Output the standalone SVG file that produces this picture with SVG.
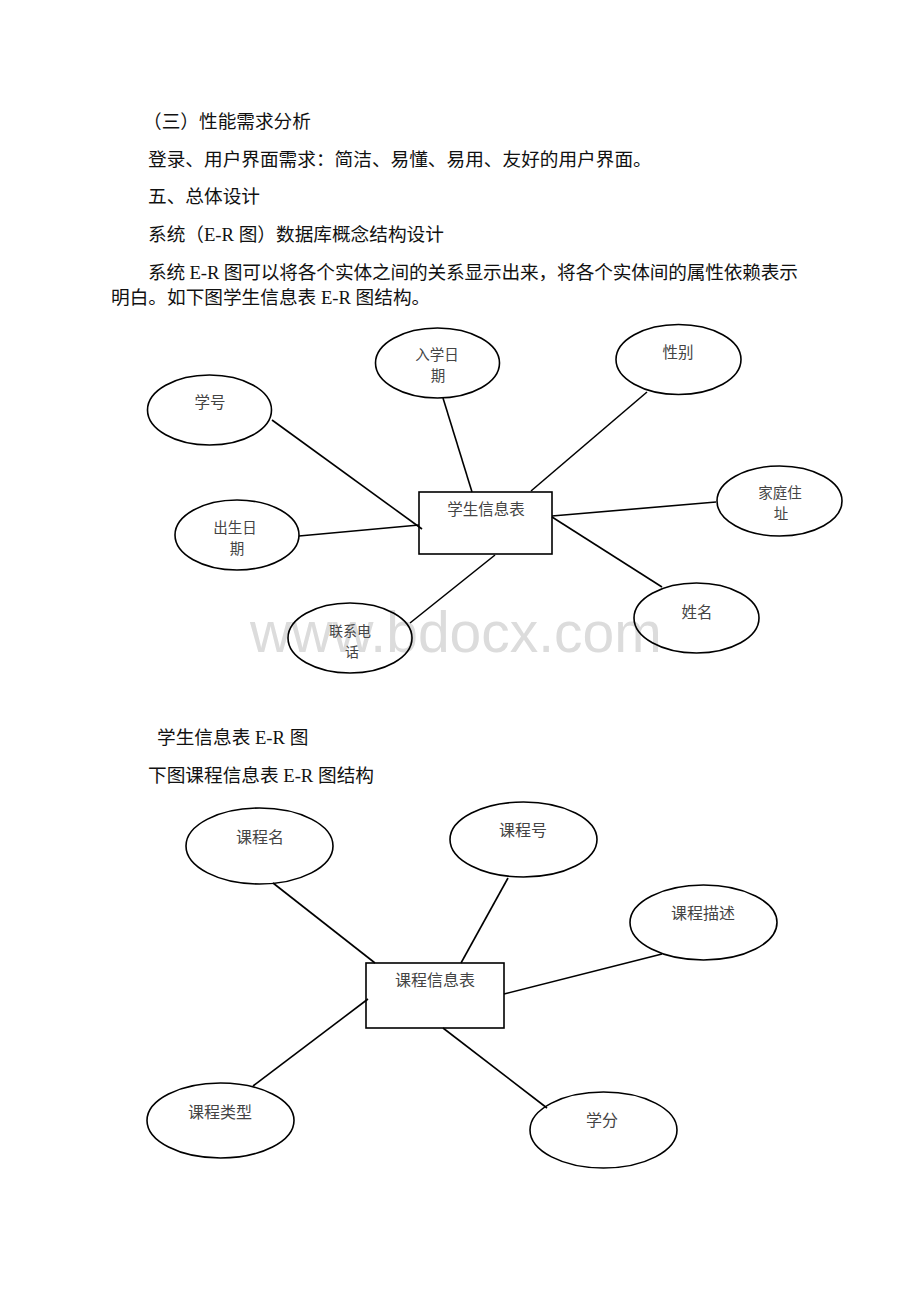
<svg xmlns="http://www.w3.org/2000/svg" width="920" height="1302" viewBox="0 0 920 1302">
<style>
.p{font-family:"Liberation Serif","Noto Sans CJK SC",serif;font-size:18.67px;fill:#111}
.n{font-family:"Liberation Serif","Noto Sans CJK SC",sans-serif;font-size:15.5px;fill:#444;text-anchor:middle}
.shape{fill:none;stroke:#000;stroke-width:1.6}
.c line{stroke:#000;stroke-width:1.6}
.wm{font-family:"Liberation Sans",Arial,sans-serif;font-size:57px;fill:#dcdcdc}
</style>
<rect width="920" height="1302" fill="#fff"/>
<g id="text">
<text class="p" x="143" y="128">（三）性能需求分析</text>
<text class="p" x="148" y="166">登录、用户界面需求：简洁、易懂、易用、友好的用户界面。</text>
<text class="p" x="148" y="203">五、总体设计</text>
<text class="p" x="148" y="241">系统（E-R 图）数据库概念结构设计</text>
<text class="p" x="148" y="279" textLength="650" lengthAdjust="spacing">系统 E-R 图可以将各个实体之间的关系显示出来，将各个实体间的属性依赖表示</text>
<text class="p" x="111" y="304">明白。如下图学生信息表 E-R 图结构。</text>
<text class="p" x="157" y="744">学生信息表 E-R 图</text>
<text class="p" x="148" y="782">下图课程信息表 E-R 图结构</text>
</g>
<text class="wm" x="250" y="652">www.bdocx.com</text>
<g id="connectors" class="c">
<line x1="272" y1="420" x2="422" y2="529"/>
<line x1="443" y1="398" x2="472" y2="492"/>
<line x1="299" y1="536" x2="419" y2="525"/>
<line x1="410" y1="623" x2="495" y2="555"/>
<line x1="647" y1="392" x2="531" y2="491"/>
<line x1="716" y1="502" x2="552" y2="516"/>
<line x1="552" y1="517" x2="662" y2="587"/>
<line x1="273" y1="883" x2="375" y2="963"/>
<line x1="253" y1="1086" x2="368" y2="999"/>
<line x1="508" y1="878" x2="461" y2="963"/>
<line x1="662" y1="954" x2="504" y2="994"/>
<line x1="443" y1="1028" x2="547" y2="1108"/>
</g>
<g id="student">
<rect class="shape" x="419" y="492" width="133" height="62"/>
<text class="n" x="486" y="515">学生信息表</text>
</g>
<g id="xuehao">
<ellipse class="shape" cx="209.5" cy="410" rx="62" ry="35"/>
<text class="n" x="210" y="408">学号</text>
</g>
<g id="ruxueriqi">
<ellipse class="shape" cx="437.5" cy="363" rx="62" ry="35"/>
<text class="n" x="437" y="360" style="font-size:14.5px">入学日</text>
<text class="n" x="438" y="381" style="font-size:14.5px">期</text>
</g>
<g id="chushengriqi">
<ellipse class="shape" cx="237" cy="535" rx="62" ry="35"/>
<text class="n" x="235" y="533" style="font-size:14.5px">出生日</text>
<text class="n" x="237" y="554" style="font-size:14.5px">期</text>
</g>
<g id="lianxidianhua">
<ellipse class="shape" cx="350" cy="638" rx="62" ry="35"/>
<text class="n" x="350" y="636" style="font-size:14px">联系电</text>
<text class="n" x="352" y="657" style="font-size:14px">话</text>
</g>
<g id="xingbie">
<ellipse class="shape" cx="678.5" cy="359.5" rx="62.5" ry="35"/>
<text class="n" x="678" y="358">性别</text>
</g>
<g id="jiatingzhuzhi">
<ellipse class="shape" cx="779.5" cy="501" rx="62.5" ry="35"/>
<text class="n" x="780" y="498" style="font-size:14.5px">家庭住</text>
<text class="n" x="781" y="519" style="font-size:14.5px">址</text>
</g>
<g id="xingming">
<ellipse class="shape" cx="696.5" cy="618" rx="62.5" ry="35"/>
<text class="n" x="697" y="618">姓名</text>
</g>
<g id="course">
<rect class="shape" x="366" y="963" width="138" height="65"/>
<text class="n" x="435" y="986" style="font-size:16px">课程信息表</text>
</g>
<g id="kechengming">
<ellipse class="shape" cx="259.5" cy="846" rx="73.5" ry="38"/>
<text class="n" x="260" y="843" style="font-size:16px">课程名</text>
</g>
<g id="kechenghao">
<ellipse class="shape" cx="523.5" cy="839.5" rx="73.5" ry="37.5"/>
<text class="n" x="523" y="836" style="font-size:16px">课程号</text>
</g>
<g id="kechengmiaoshu">
<ellipse class="shape" cx="703.5" cy="922.5" rx="73.5" ry="37.5"/>
<text class="n" x="703" y="919" style="font-size:16px">课程描述</text>
</g>
<g id="kechengleixing">
<ellipse class="shape" cx="220.5" cy="1120.5" rx="73.5" ry="37.5"/>
<text class="n" x="220" y="1118" style="font-size:16px">课程类型</text>
</g>
<g id="xuefen">
<ellipse class="shape" cx="603.5" cy="1130" rx="73.5" ry="38"/>
<text class="n" x="602" y="1126" style="font-size:16px">学分</text>
</g>
</svg>
